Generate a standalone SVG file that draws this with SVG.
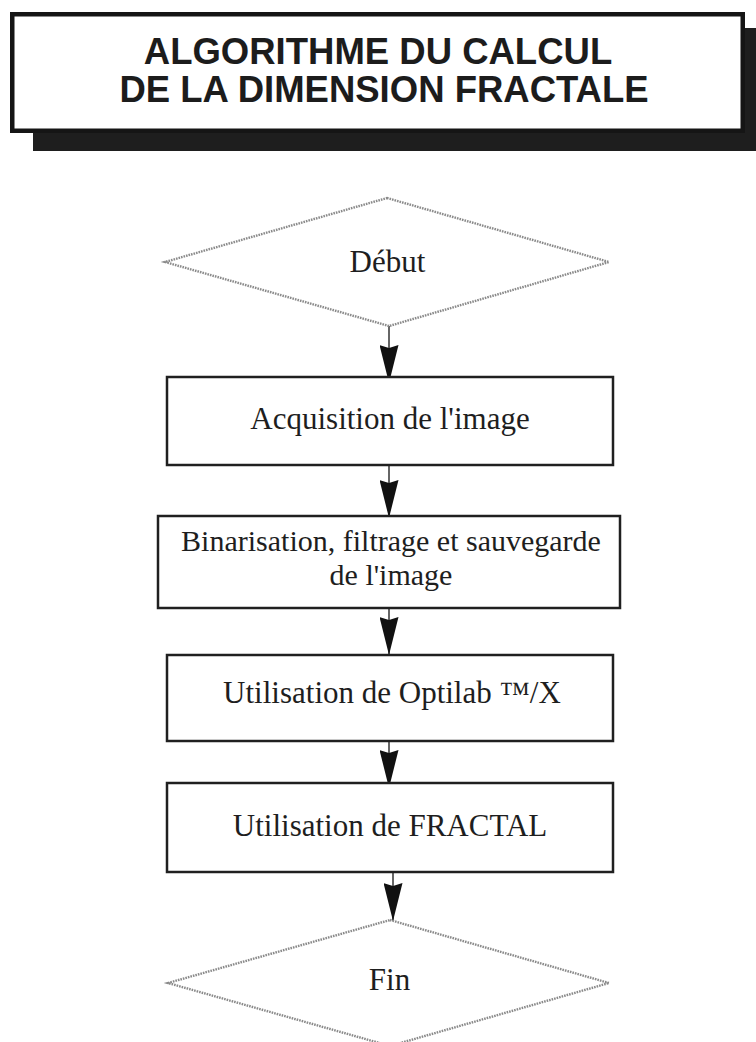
<svg xmlns="http://www.w3.org/2000/svg" width="756" height="1042" viewBox="0 0 756 1042">
  <style>
    .title { font-family: "Liberation Sans", Arial, sans-serif; font-weight: bold; font-size: 36.5px; fill: #1c1c1c; text-anchor: middle; }
    .lbl { font-family: "Liberation Serif", "Times New Roman", serif; font-size: 31px; fill: #1e1e1e; text-anchor: middle; }
    .lbl2 { font-size: 30px; }
    .box { fill: #ffffff; stroke: #202020; stroke-width: 2.5; }
    .term { fill: #ffffff; stroke: #8a8a8a; stroke-width: 2.4; stroke-dasharray: 1.6 1; }
    .conn { stroke: #333333; stroke-width: 1.5; fill: none; marker-end: url(#ah); }
  </style>
  <defs>
    <marker id="ah" markerUnits="userSpaceOnUse" viewBox="0 0 38 19" markerWidth="38" markerHeight="19" refX="38" refY="9.5" orient="auto">
      <path d="M0,0 L38,9.5 L0,19 L3,9.5 z" fill="#111111"/>
    </marker>
  </defs>
  <rect width="756" height="1042" fill="#ffffff"/>

  <g id="title">
    <rect x="33" y="28" width="740" height="123" fill="#1e1e1e"/>
    <rect x="12.25" y="14.25" width="730.5" height="116.5" fill="#ffffff" stroke="#151515" stroke-width="4.5"/>
    <text class="title" x="378" y="64">ALGORITHME DU CALCUL</text>
    <text class="title" x="384" y="102">DE LA DIMENSION FRACTALE</text>
  </g>

  <g id="connectors">
    <path class="conn" d="M389,326 L389,383"/>
    <path class="conn" d="M389,465 L389,518"/>
    <path class="conn" d="M389,608 L389,655"/>
    <path class="conn" d="M389,741 L389,788"/>
    <path class="conn" d="M393,872 L393,921"/>
  </g>

  <g id="debut">
    <polygon class="term" points="387,198 609,262 389,326 165,262"/>
    <text class="lbl" x="387.5" y="272">Début</text>
  </g>

  <g id="acquisition">
    <rect class="box" x="167" y="377" width="446" height="88"/>
    <text class="lbl" x="390" y="429">Acquisition de l'image</text>
  </g>

  <g id="binarisation">
    <rect class="box" x="158" y="516" width="462" height="92"/>
    <text class="lbl lbl2" x="391" y="551">Binarisation, filtrage et sauvegarde</text>
    <text class="lbl lbl2" x="391" y="585">de l'image</text>
  </g>

  <g id="optilab">
    <rect class="box" x="167" y="655" width="446" height="86"/>
    <text class="lbl" x="392" y="703">Utilisation de Optilab ™/X</text>
  </g>

  <g id="fractal">
    <rect class="box" x="167" y="783" width="446" height="89"/>
    <text class="lbl" x="390" y="836">Utilisation de FRACTAL</text>
  </g>

  <g id="fin">
    <polygon class="term" points="390,920 609,983 390,1046 168,983"/>
    <text class="lbl" x="389.5" y="990">Fin</text>
  </g>
</svg>
